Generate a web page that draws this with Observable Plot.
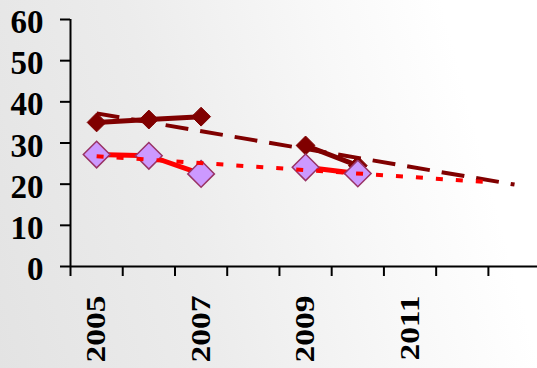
<!DOCTYPE html>
<html><head><meta charset="utf-8">
<script src="https://cdn.jsdelivr.net/npm/d3@7"></script>
<script src="https://cdn.jsdelivr.net/npm/@observablehq/plot@0.6"></script>
<style>
html,body{margin:0;padding:0;}
body{width:537px;height:368px;overflow:hidden;background:linear-gradient(75deg,#e3e3e3 0%,#ececec 35%,#f8f8f8 65%,#ffffff 85%);}
</style></head><body><div id="chart"></div>
<script>
const years = [2005, 2006, 2007, 2008, 2009, 2010];
const seriesDark = [35.0, 35.7, 36.4, null, 29.4, 24.5];
const seriesLight = [27.2, 26.9, 22.5, null, 24.1, 22.6];
const trendDarkYears = [2005, 2013];
const trendDarkValues = [37.2, 19.9];
const trendLightYears = [2005, 2012.6];
const trendLightValues = [26.8, 20.4];
const yTicks = [0, 10, 20, 30, 40, 50, 60];
const xTickMarks = [2004.5, 2005.5, 2006.5, 2007.5, 2008.5, 2009.5, 2010.5, 2011.5, 2012.5];
const xTickLabels = [2005, 2007, 2009, 2011];

const darkRows = years.map((yr, i) => ({year: yr, value: seriesDark[i]}));
const lightRows = years.map((yr, i) => ({year: yr, value: seriesLight[i]}));
const trendDark = trendDarkYears.map((yr, i) => ({year: yr, value: trendDarkValues[i]}));
const trendLight = trendLightYears.map((yr, i) => ({year: yr, value: trendLightValues[i]}));

const font = "Liberation Serif";

const chart = Plot.plot({
  width: 537, height: 368,
  marginLeft: 70, marginRight: 0, marginTop: 19, marginBottom: 102,
  x: {type: "linear", domain: [2004.5, 2013.44], axis: null},
  y: {domain: [0, 60], axis: null},
  style: {background: "transparent", color: "black", fontFamily: font, fontWeight: "bold"},
  marks: [
    Plot.axisY({ticks: yTicks, tickSize: 10, tickPadding: 17, fontSize: 33, fontWeight: "bold", fontFamily: font, strokeWidth: 2, label: null, tickFormat: d => String(d)}),
    Plot.axisX({ticks: xTickMarks, tickSize: 10, strokeWidth: 2, label: null, tickFormat: () => ""}),
    Plot.axisX({ticks: xTickLabels, tickSize: 0, tickRotate: -90, tickPadding: 29, fontSize: 27, fontWeight: "bold", fontFamily: font, label: null, tickFormat: d => String(d)}),
    Plot.ruleX([2004.5], {stroke: "black", strokeWidth: 2}),
    Plot.ruleY([0], {stroke: "black", strokeWidth: 2}),
    Plot.line(darkRows, {x: "year", y: "value", stroke: "#800000", strokeWidth: 5}),
    Plot.line(lightRows, {x: "year", y: "value", stroke: "#ff0000", strokeWidth: 5}),
    Plot.dot(darkRows, {x: "year", y: "value", symbol: "diamond2", r: 8.5, fill: "#800000", stroke: "#800000", strokeWidth: 1}),
    Plot.dot(lightRows, {x: "year", y: "value", symbol: "diamond2", r: 12, fill: "#cc99ff", stroke: "#993366", strokeWidth: 1.5}),
    Plot.line(trendDark, {x: "year", y: "value", stroke: "#800000", strokeWidth: 4, strokeDasharray: "23 12", strokeLinecap: "butt"}),
    Plot.line(trendLight, {x: "year", y: "value", stroke: "#ff0000", strokeWidth: 4, strokeDasharray: "7 13", strokeLinecap: "butt"})
  ]
});
document.getElementById("chart").appendChild(chart);

d3.select(chart).selectAll("g[aria-label='y-axis tick label'] text").each(function() {
  const t = this.getAttribute("transform") || "";
  this.setAttribute("transform", t + " translate(0,3)");
});
d3.select(chart).selectAll("g[aria-label='x-axis tick label'] text").each(function() {
  const t = this.getAttribute("transform") || "";
  this.setAttribute("transform", t + " scale(1.24,1)");
});
</script></body></html>
